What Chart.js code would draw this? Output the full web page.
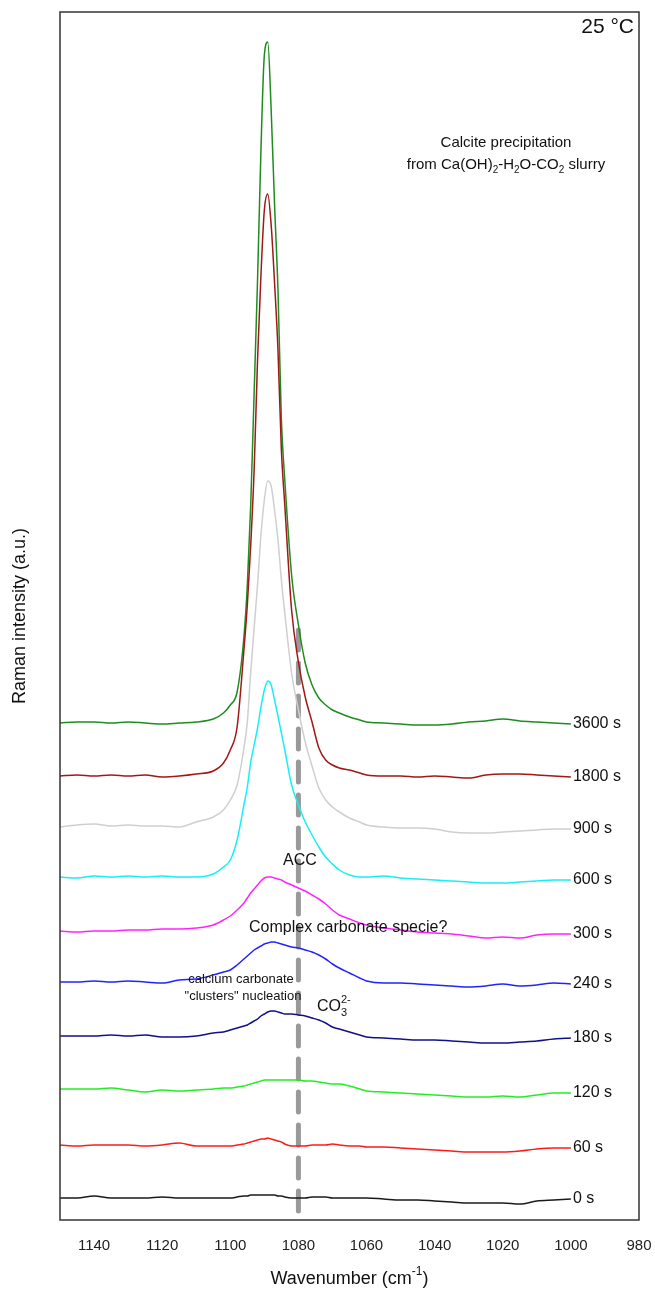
<!DOCTYPE html>
<html>
<head>
<meta charset="utf-8">
<title>Raman spectra - calcite precipitation</title>
<script src="https://cdn.jsdelivr.net/npm/chart.js@4.4.1/dist/chart.umd.min.js"></script>
<style>
    html, body { margin: 0; padding: 0; background: #fff; }
    #wrap { width: 655px; height: 1290px; position: relative; }
</style>
</head>
<body>
<div id="wrap"><canvas id="myChart"></canvas></div>
<script>
// wavenumber grid (cm-1), same for every spectrum
const wavenumbers = [1150, 1145, 1140, 1135, 1130, 1125, 1120, 1115, 1110, 1105,
    1102, 1100, 1098, 1096, 1095, 1094, 1093, 1092, 1091, 1090,
    1089, 1088, 1087, 1086, 1085, 1084, 1082, 1080, 1078, 1076,
    1074, 1072, 1070, 1068, 1065, 1062, 1060, 1055, 1050, 1045,
    1040, 1035, 1030, 1025, 1020, 1015, 1010, 1005, 1000];

// stacked Raman intensities (a.u., offsets included)
const s0 = [22, 22, 24, 22, 22, 22, 23, 22, 22, 22,
    22, 22, 23, 24, 24, 25, 25, 25, 25, 25,
    25, 25, 25, 24, 24, 23, 22, 22, 22, 23,
    23, 23, 22, 22, 22, 22, 22, 21, 20, 20,
    19, 18, 17, 17, 17, 16, 19, 20, 21];
const s60 = [75, 74, 75, 75, 75, 74, 75, 77, 74, 74,
    74, 74, 75, 76, 77, 78, 79, 80, 81, 81,
    82, 81, 80, 79, 78, 76, 74, 74, 74, 75,
    75, 75, 76, 75, 74, 74, 73, 73, 72, 71,
    70, 69, 68, 68, 68, 69, 71, 72, 72];
const s120 = [131, 131, 131, 132, 130, 128, 130, 129, 130, 131,
    132, 132, 133, 134, 135, 136, 137, 138, 139, 140,
    140, 140, 140, 140, 140, 140, 140, 140, 139, 139,
    138, 137, 136, 136, 134, 131, 129, 128, 127, 126,
    125, 124, 123, 123, 124, 123, 125, 127, 127];
const s180 = [184, 184, 184, 185, 184, 185, 183, 183, 184, 187,
    188, 190, 192, 194, 195, 197, 199, 201, 204, 206,
    208, 209, 209, 208, 207, 206, 206, 205, 204, 202,
    200, 197, 193, 191, 188, 185, 183, 182, 181, 180,
    180, 179, 178, 177, 177, 178, 179, 181, 182];
const s240 = [238, 238, 239, 238, 239, 238, 237, 240, 241, 245,
    248, 250, 255, 261, 264, 267, 270, 272, 274, 276,
    277, 278, 278, 277, 276, 275, 273, 272, 270, 268,
    265, 261, 256, 252, 247, 242, 239, 237, 237, 236,
    235, 234, 233, 234, 236, 234, 235, 237, 236];
const s300 = [289, 288, 289, 289, 290, 290, 291, 291, 292, 295,
    300, 304, 310, 317, 322, 327, 331, 335, 339, 342,
    343, 343, 342, 341, 340, 338, 335, 332, 329, 325,
    321, 316, 310, 305, 301, 297, 295, 292, 290, 288,
    287, 286, 284, 282, 283, 282, 285, 286, 286];
const s600 = [343, 342, 344, 343, 344, 343, 344, 343, 343, 346,
    353, 360, 380, 415, 433, 458, 475, 492, 513, 530,
    539, 535, 520, 504, 487, 470, 435, 415, 398, 385,
    373, 363, 356, 350, 345, 343, 343, 344, 342, 341,
    340, 339, 338, 337, 337, 338, 339, 340, 340];
const s900 = [393, 395, 396, 394, 395, 394, 394, 393, 398, 403,
    410, 420, 435, 472, 498, 548, 592, 635, 685, 720,
    739, 734, 710, 680, 640, 607, 547, 510, 478, 454,
    432, 420, 413, 408, 402, 398, 395, 393, 392, 392,
    391, 388, 387, 387, 388, 389, 390, 391, 391];
const s1800 = [444, 445, 444, 445, 444, 445, 443, 444, 446, 449,
    457, 470, 493, 570, 615, 675, 750, 860, 945, 1010,
    1026, 995, 937, 870, 770, 715, 610, 558, 523, 498,
    472, 460, 455, 452, 450, 447, 445, 444, 444, 443,
    444, 443, 442, 445, 446, 446, 445, 444, 443];
const s3600 = [497, 498, 498, 497, 498, 497, 496, 497, 498, 501,
    507, 515, 528, 583, 635, 715, 827, 940, 1070, 1165,
    1178, 1110, 1015, 930, 800, 740, 645, 595, 557, 535,
    522, 515, 510, 507, 503, 500, 498, 497, 496, 495,
    495, 496, 498, 499, 501, 499, 498, 497, 496];

const seriesValues = [s0, s60, s120, s180, s240, s300, s600, s900, s1800, s3600];
const seriesLabels = ['0 s', '60 s', '120 s', '180 s', '240 s', '300 s', '600 s', '900 s', '1800 s', '3600 s'];
const seriesColors = ['#1a1a1a', '#ff1a1a', '#22ee22', '#10108a', '#2222ff', '#ff22ff', '#18eef5', '#cfcfcf', '#a01818', '#1f8c1f'];

// dashed guide at 1080 cm-1
const guideX = [1080, 1080];
const guideY = [590, -4];

const xTicks = [1140, 1120, 1100, 1080, 1060, 1040, 1020, 1000, 980];

const FONT = '"Liberation Sans", Arial, sans-serif';

// dibuja texto con subíndices / superíndices
const richText = (ctx, parts, x, y, size, align) => {
    const small = Math.round(size * 0.68);
    const widthOf = p => {
        if (p.both) {
            ctx.font = `${small}px ${FONT}`;
            return Math.max(ctx.measureText(p.sub).width, ctx.measureText(p.sup).width);
        }
        ctx.font = `${p.s ? small : size}px ${FONT}`;
        return ctx.measureText(p.t).width;
    };
    let total = 0;
    parts.forEach(p => total += widthOf(p));
    let cx = align === 'center' ? x - total / 2 : (align === 'right' ? x - total : x);
    ctx.textAlign = 'left';
    ctx.textBaseline = 'middle';
    parts.forEach(p => {
        const w = widthOf(p);
        if (p.both) {
            ctx.font = `${small}px ${FONT}`;
            ctx.fillText(p.sub, cx, y + size * 0.35);
            ctx.fillText(p.sup, cx, y - size * 0.42);
        } else {
            ctx.font = `${p.s ? small : size}px ${FONT}`;
            const dy = p.s === 'sub' ? size * 0.32 : (p.s === 'sup' ? -size * 0.4 : 0);
            ctx.fillText(p.t, cx, y + dy);
        }
        cx += w;
    });
};

const overlay = {
    id: 'overlay',
    afterDatasetsDraw(chart) {
        const { ctx, chartArea: a } = chart;
        ctx.save();

        // marco
        ctx.strokeStyle = '#333';
        ctx.lineWidth = 1.5;
        ctx.strokeRect(a.left, a.top, a.right - a.left, a.bottom - a.top);

        ctx.fillStyle = '#111';

        // etiquetas al final de cada espectro
        seriesLabels.forEach((label, i) => {
            const meta = chart.getDatasetMeta(i);
            const last = meta.data[meta.data.length - 1];
            richText(ctx, [{ t: label }], last.x + 2, last.y, 16, 'left');
        });

        richText(ctx, [{ t: '25 °C' }], a.right - 5, 27, 21, 'right');
        richText(ctx, [{ t: 'Calcite precipitation' }], 506, 143, 15, 'center');
        richText(ctx, [
            { t: 'from Ca(OH)' }, { t: '2', s: 'sub' }, { t: '-H' }, { t: '2', s: 'sub' },
            { t: 'O-CO' }, { t: '2', s: 'sub' }, { t: ' slurry' }
        ], 506, 165, 15, 'center');

        richText(ctx, [{ t: 'ACC' }], 300, 861, 16, 'center');
        richText(ctx, [{ t: 'Complex carbonate specie?' }], 249, 928, 16, 'left');
        richText(ctx, [{ t: 'calcium carbonate' }], 241, 979, 13, 'center');
        richText(ctx, [{ t: '"clusters" nucleation' }], 243, 996, 13, 'center');
        richText(ctx, [{ t: 'CO' }, { both: true, sub: '3', sup: '2-' }], 317, 1007, 16, 'left');

        // títulos de ejes
        richText(ctx, [{ t: 'Wavenumber (cm' }, { t: '-1', s: 'sup' }, { t: ')' }], (a.left + a.right) / 2, 1279, 18, 'center');
        ctx.translate(20, (a.top + a.bottom) / 2);
        ctx.rotate(-Math.PI / 2);
        richText(ctx, [{ t: 'Raman intensity (a.u.)' }], 0, 0, 18, 'center');

        ctx.restore();
    }
};

const datasets = seriesValues.map((vals, i) => ({
    label: seriesLabels[i],
    data: wavenumbers.map((w, j) => ({ x: w, y: vals[j] })),
    borderColor: seriesColors[i],
    borderWidth: 1.5,
    pointRadius: 0,
    fill: false,
    cubicInterpolationMode: 'monotone',
    tension: 0.4
}));

datasets.push({
    label: 'guide',
    data: guideX.map((x, j) => ({ x: x, y: guideY[j] })),
    borderColor: '#999999',
    borderWidth: 5,
    borderDash: [20, 13],
    borderCapStyle: 'round',
    pointRadius: 0,
    fill: false,
    clip: 8
});

const ctx = document.getElementById('myChart').getContext('2d');
new Chart(ctx, {
    type: 'line',
    data: { datasets: datasets },
    options: {
        responsive: true,
        maintainAspectRatio: false,
        animation: false,
        layout: { padding: { left: 60, right: 16, top: 12, bottom: 0 } },
        plugins: {
            legend: { display: false },
            tooltip: { enabled: false }
        },
        scales: {
            x: {
                type: 'linear',
                min: 980,
                max: 1150,
                reverse: true,
                grid: { display: false, drawTicks: false },
                border: { display: false },
                afterBuildTicks: scale => {
                    scale.ticks = xTicks.map(v => ({ value: v }));
                },
                afterFit: scale => {
                    scale.height = 70;
                    scale.paddingLeft = 0;
                    scale.paddingRight = 0;
                },
                ticks: {
                    padding: 17,
                    maxRotation: 0,
                    autoSkip: false,
                    color: '#222',
                    font: { family: FONT, size: 15 },
                    callback: value => String(value)
                }
            },
            y: {
                display: false,
                min: 0,
                max: 1208
            }
        }
    },
    plugins: [overlay]
});
</script>
</body>
</html>
